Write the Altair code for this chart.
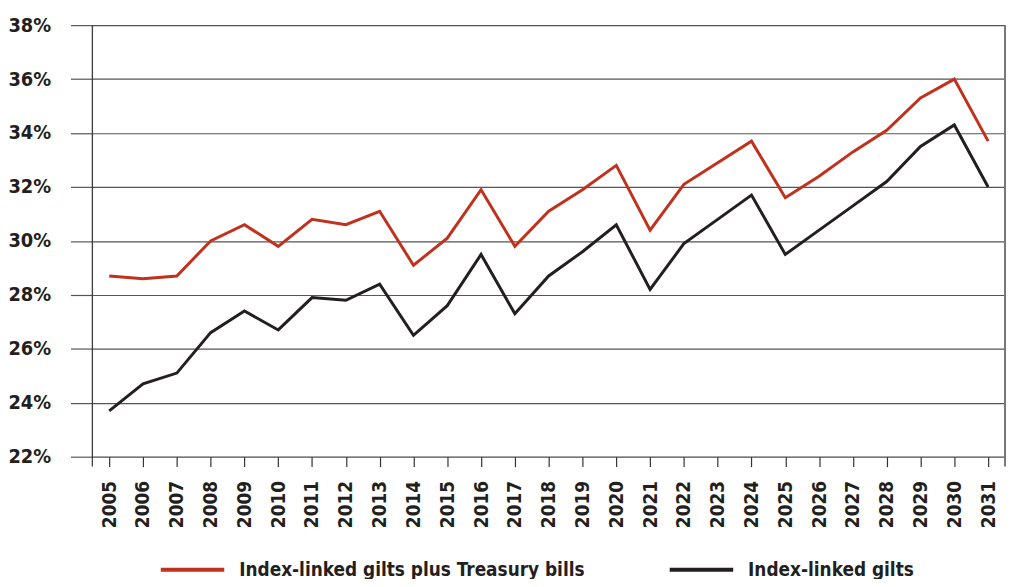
import altair as alt
import pandas as pd

years = ["2005", "2006", "2007", "2008", "2009", "2010", "2011", "2012", "2013",
         "2014", "2015", "2016", "2017", "2018", "2019", "2020", "2021", "2022",
         "2023", "2024", "2025", "2026", "2027", "2028", "2029", "2030", "2031"]
plus_tbills = [28.7, 28.6, 28.7, 30.0, 30.6, 29.8, 30.8, 30.6, 31.1, 29.1, 30.1, 31.9,
               29.8, 31.1, 31.9, 32.8, 30.4, 32.1, 32.9, 33.7, 31.6, 32.4, 33.3, 34.1,
               35.3, 36.0, 33.7]
gilts_only = [23.7, 24.7, 25.1, 26.6, 27.4, 26.7, 27.9, 27.8, 28.4, 26.5, 27.6, 29.5,
              27.3, 28.7, 29.6, 30.6, 28.2, 29.9, 30.8, 31.7, 29.5, 30.4, 31.3, 32.2,
              33.5, 34.3, 32.0]
series_names = ["Index-linked gilts plus Treasury bills", "Index-linked gilts"]
series_colors = ["#C0321E", "#231F20"]
y_ticks = [22, 24, 26, 28, 30, 32, 34, 36, 38]

rows = []
for name, vals in zip(series_names, [plus_tbills, gilts_only]):
    for yr, v in zip(years, vals):
        rows.append({"year": yr, "value": v, "series": name})
df = pd.DataFrame(rows)

W, H = 920, 435
FONT = "'DejaVu Sans Condensed', 'Liberation Sans', sans-serif"

lines = alt.Chart(df).mark_line(strokeWidth=3).encode(
    x=alt.X("year:O", sort=years, title=None,
            scale=alt.Scale(type="point", padding=0.5),
            axis=alt.Axis(labelAngle=-90, labelFont=FONT, labelFontWeight="bold",
                          labelFontSize=19, labelColor="#231F20", tickSize=10,
                          tickColor="#333333", tickWidth=1.2, domain=False,
                          labelPadding=14, grid=False)),
    y=alt.Y("value:Q", title=None,
            scale=alt.Scale(domain=[22, 38], nice=False, zero=False),
            axis=alt.Axis(values=y_ticks, labelExpr="datum.value + '%'",
                          labelFont=FONT, labelFontWeight="bold", labelFontSize=20,
                          labelColor="#231F20", tickSize=22, tickColor="#555555",
                          tickWidth=1.2, gridColor="#555555", gridWidth=1.2,
                          gridOpacity=1, domain=False, labelPadding=20)),
    color=alt.Color("series:N", sort=series_names,
                    scale=alt.Scale(domain=series_names, range=series_colors),
                    legend=alt.Legend(title=None, orient="none", direction="horizontal",
                                      legendX=67, legendY=515, symbolType="stroke",
                                      symbolSize=4096, symbolStrokeWidth=4,
                                      labelFont=FONT, labelFontWeight="bold",
                                      labelFontSize=19, labelColor="#231F20",
                                      labelLimit=1000,
                                      labelOffset=13, columnPadding=77, padding=0)),
)

frame = pd.DataFrame({"k": [0]})
left_rule = alt.Chart(frame).mark_rule(color="#333333", strokeWidth=1.2).encode(
    x=alt.value(0), y=alt.value(0), y2=alt.value(H + 10))
right_rule = alt.Chart(frame).mark_rule(color="#777777", strokeWidth=2).encode(
    x=alt.value(W), y=alt.value(0), y2=alt.value(H + 10))

chart = alt.layer(lines, left_rule, right_rule).properties(
    width=W, height=H,
    autosize=alt.AutoSizeParams(type="none"),
    padding={"left": 85, "top": 15, "right": 2, "bottom": 121},
).configure_view(stroke=None).configure(background="white")

chart.save("out.html", embed_options={"renderer": "svg", "actions": False})
